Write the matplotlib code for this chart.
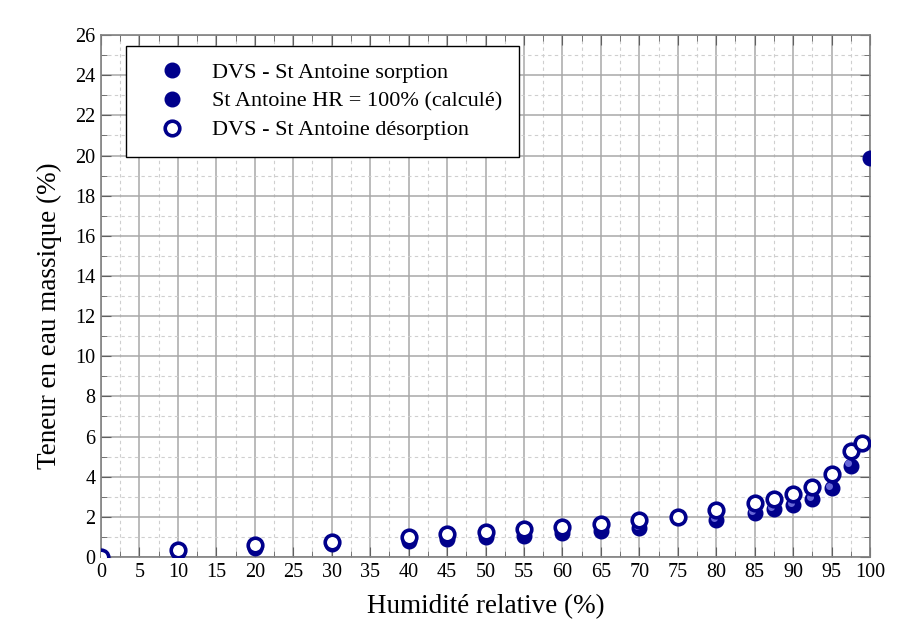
import numpy as np
import matplotlib
matplotlib.use('Agg')
import matplotlib.pyplot as plt
import matplotlib.transforms as mtransforms
from matplotlib.ticker import MultipleLocator

# ── Data ──────────────────────────────────────────────────────────────
hr_sorp = [0, 10, 20, 30, 40, 45, 50, 55, 60, 65, 70, 75, 80, 85, 87.5, 90, 92.5, 95, 97.5]
w_sorp = [0.0, 0.26, 0.43, 0.65, 0.81, 0.88, 0.98, 1.06, 1.18, 1.31, 1.43, 1.98, 1.84,
          2.18, 2.39, 2.59, 2.87, 3.42, 4.55]

hr_desorp = [0, 10, 20, 30, 40, 45, 50, 55, 60, 65, 70, 75, 80, 85, 87.5, 90, 92.5, 95, 97.5, 99]
w_desorp = [0.0, 0.35, 0.60, 0.76, 1.01, 1.15, 1.23, 1.38, 1.48, 1.64, 1.84, 2.01, 2.34,
            2.71, 2.89, 3.14, 3.50, 4.13, 5.29, 5.66]

hr_calc = [100]
w_calc = [19.9]

NAVY = "#00008B"
SERIF = ["Liberation Serif", "DejaVu Serif"]

plt.rcParams.update({
    "font.family": SERIF,
    "xtick.direction": "in",
    "ytick.direction": "in",
})

fig = plt.figure(figsize=(8.99, 6.26), dpi=100)
ax = fig.add_axes([0.1124, 0.1102, 0.8553, 0.8338])

ax.plot(hr_sorp, w_sorp, "o", ms=10.5, color=NAVY, mec=NAVY,
        label="DVS - St Antoine sorption", zorder=3)
# small highlight to mimic the shaded sphere markers
hl = mtransforms.offset_copy(ax.transData, fig=fig, x=-2.5, y=2.5, units="dots")
ax.plot(hr_sorp, w_sorp, "o", ms=5, color="#7474e0", mec="none", alpha=0.9,
        transform=hl, zorder=3.5)
ax.plot(hr_calc, w_calc, "o", ms=10.5, color=NAVY, mec=NAVY,
        label="St Antoine HR = 100% (calculé)", zorder=3)
ax.plot(hr_desorp, w_desorp, "o", ms=10.5, mfc="white", mec=NAVY, mew=2.6,
        label="DVS - St Antoine désorption", zorder=4)

ax.set_xlim(0, 100)
ax.set_ylim(0, 26)
ax.xaxis.set_major_locator(MultipleLocator(5))
ax.xaxis.set_minor_locator(MultipleLocator(2.5))
ax.yaxis.set_major_locator(MultipleLocator(2))
ax.yaxis.set_minor_locator(MultipleLocator(1))

ax.grid(which="major", color="#a8a8a8", lw=1.1, zorder=0)
ax.grid(which="minor", color="#cfcfcf", lw=0.8, ls=(0, (3, 3)), zorder=0)
ax.set_axisbelow(True)

for sp in ax.spines.values():
    sp.set_color("#808080")
    sp.set_linewidth(1.2)
ax.tick_params(which="both", top=True, right=True, color="#606060")
ax.tick_params(which="major", length=7, labelsize=14.5, pad=4)
ax.tick_params(which="minor", length=4)

ax.set_xlabel("Humidité relative (%)", fontsize=19.5, labelpad=9)
ax.set_ylabel("Teneur en eau massique (%)", fontsize=19.5)
ax.yaxis.set_label_coords(-0.051, 0.462)

leg = ax.legend(loc="upper left", bbox_to_anchor=(0.0325, 0.979), fontsize=16,
                frameon=True, fancybox=False, edgecolor="black", framealpha=1,
                borderpad=0.75, labelspacing=0.36, handlelength=2.6,
                handletextpad=0.5, borderaxespad=0.0)
leg.get_frame().set_linewidth(1.0)

fig.savefig("out.png", dpi=100, facecolor="white")
